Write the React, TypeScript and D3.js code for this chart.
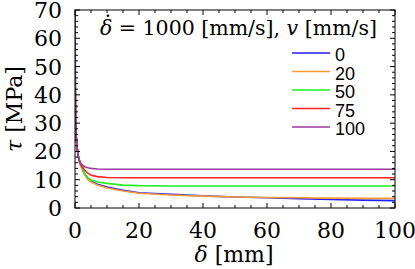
import React, { useEffect, useRef } from 'react';
import * as d3 from 'd3';

// shared abscissa (delta, mm)
const delta = [0.02, 0.1, 0.2, 0.4, 0.7, 1, 1.5, 2, 3, 4, 5, 7, 10, 15, 20, 30, 40, 50, 60, 70, 80, 90, 100];

const tau0 = [75, 42, 32, 25, 21, 18.5, 16, 14.5, 12, 10.4, 9.5, 8.4, 7.4, 6.3, 5.4, 4.8, 4.3, 3.9, 3.6, 3.3, 3.0, 2.8, 2.6];
const tau20 = [75, 42, 32, 25, 21, 18.5, 16, 14.3, 11.8, 10.1, 9.2, 8.1, 7.1, 6.0, 5.2, 4.6, 4.2, 3.9, 3.7, 3.6, 3.5, 3.4, 3.4];
const tau50 = [75, 42, 32, 25, 21, 18.5, 16, 14.5, 12.2, 10.6, 9.9, 9.2, 8.7, 8.1, 7.9, 7.8, 7.8, 7.8, 7.8, 7.8, 7.8, 7.8, 7.8];
const tau75 = [75, 42, 32, 25, 21, 18.5, 16, 15, 13.4, 12.3, 11.6, 11.1, 10.8, 10.7, 10.7, 10.7, 10.7, 10.7, 10.7, 10.7, 10.7, 10.7, 10.7];
const tau100 = [75, 42, 32, 25, 21, 18.5, 16.5, 15.5, 14.6, 14.2, 14.0, 13.8, 13.7, 13.7, 13.7, 13.7, 13.7, 13.7, 13.7, 13.7, 13.7, 13.7, 13.7];

const seriesNames = ['0', '20', '50', '75', '100'];
const seriesValues = [tau0, tau20, tau50, tau75, tau100];
const colors = ['#1f1fff', '#ff9a33', '#22ee22', '#ff2222', '#9a3a9e'];

const xTicks = [0, 20, 40, 60, 80, 100];
const yTicks = [0, 10, 20, 30, 40, 50, 60, 70];

const App: React.FC = () => {
  const svgRef = useRef(null);

  useEffect(() => {
    const width = 415;
    const height = 269;
    const marginTop = 10;
    const marginRight = 20;
    const marginBottom = 61;
    const marginLeft = 75;
    const serif = "'DejaVu Serif', 'Liberation Serif', serif";
    const sans = "'Liberation Sans', Arial, sans-serif";

    const svg = d3.select(svgRef.current)
      .attr('width', width)
      .attr('height', height)
      .attr('viewBox', [0, 0, width, height]);

    svg.selectAll('*').remove();

    const x = d3.scaleLinear().domain([0, 100]).range([marginLeft, width - marginRight]);
    const y = d3.scaleLinear().domain([0, 70]).range([height - marginBottom, marginTop]);

    svg.append('clipPath').attr('id', 'plotclip')
      .append('rect')
      .attr('x', marginLeft).attr('y', marginTop)
      .attr('width', width - marginLeft - marginRight)
      .attr('height', height - marginTop - marginBottom);

    // curves
    const line = d3.line<number>()
      .x((_, i) => x(delta[i]))
      .y(d => y(d));

    const g = svg.append('g').attr('clip-path', 'url(#plotclip)');
    seriesValues.forEach((vals, k) => {
      g.append('path')
        .datum(vals)
        .attr('d', line)
        .attr('fill', 'none')
        .attr('stroke', colors[k])
        .attr('stroke-width', 1.6);
    });

    // frame
    svg.append('rect')
      .attr('x', marginLeft).attr('y', marginTop)
      .attr('width', width - marginLeft - marginRight)
      .attr('height', height - marginTop - marginBottom)
      .attr('fill', 'none')
      .attr('stroke', 'black')
      .attr('stroke-width', 1);

    // inward ticks on all four sides
    const tickG = svg.append('g').attr('stroke', 'black').attr('stroke-width', 1);
    d3.range(0, 100.01, 5).forEach(v => {
      const len = v % 20 === 0 ? 5 : 3;
      tickG.append('line').attr('x1', x(v)).attr('x2', x(v))
        .attr('y1', y(0)).attr('y2', y(0) - len);
      tickG.append('line').attr('x1', x(v)).attr('x2', x(v))
        .attr('y1', y(70)).attr('y2', y(70) + len);
    });
    d3.range(0, 70.01, 2).forEach(v => {
      const len = v % 10 === 0 ? 5 : 3;
      tickG.append('line').attr('y1', y(v)).attr('y2', y(v))
        .attr('x1', x(0)).attr('x2', x(0) + len);
      tickG.append('line').attr('y1', y(v)).attr('y2', y(v))
        .attr('x1', x(100)).attr('x2', x(100) - len);
    });

    // tick labels
    svg.append('g').selectAll('text')
      .data(xTicks)
      .enter()
      .append('text')
      .attr('x', d => x(d))
      .attr('y', 238)
      .attr('text-anchor', 'middle')
      .style('font-family', serif)
      .style('font-size', '22px')
      .text(d => d);

    svg.append('g').selectAll('text')
      .data(yTicks)
      .enter()
      .append('text')
      .attr('x', 62)
      .attr('y', d => y(d) + 8)
      .attr('text-anchor', 'end')
      .style('font-family', serif)
      .style('font-size', '22px')
      .text(d => d);

    // axis titles
    const xt = svg.append('text')
      .attr('x', 234).attr('y', 262)
      .attr('text-anchor', 'middle')
      .style('font-family', serif)
      .style('font-size', '22px');
    xt.append('tspan').style('font-style', 'italic').text('δ');
    xt.append('tspan').text(' [mm]');

    const yt = svg.append('text')
      .attr('transform', 'translate(22,109) rotate(-90)')
      .attr('text-anchor', 'middle')
      .style('font-family', serif)
      .style('font-size', '22px');
    yt.append('tspan').style('font-style', 'italic').text('τ');
    yt.append('tspan').text(' [MPa]');

    // legend title
    const tt = svg.append('text')
      .attr('x', 100).attr('y', 35)
      .style('font-family', serif)
      .style('font-size', '20.5px');
    tt.append('tspan').style('font-style', 'italic').text('δ');
    tt.append('tspan').text(' = 1000 [mm/s], ');
    tt.append('tspan').style('font-style', 'italic').text('v');
    tt.append('tspan').text(' [mm/s]');
    svg.append('text')
      .attr('x', 108).attr('y', 23)
      .attr('text-anchor', 'middle')
      .style('font-family', serif)
      .style('font-size', '20px')
      .text('·');

    // legend entries
    const leg = svg.append('g');
    seriesNames.forEach((name, k) => {
      const ly = 53 + k * 18.5;
      leg.append('line')
        .attr('x1', 292).attr('x2', 330)
        .attr('y1', ly).attr('y2', ly)
        .attr('stroke', colors[k])
        .attr('stroke-width', 1.6);
      leg.append('text')
        .attr('x', 335).attr('y', ly + 8)
        .style('font-family', sans)
        .style('font-size', '18px')
        .text(name);
    });
  }, []);

  return (
    <svg ref={svgRef} style={{ position: 'absolute', left: 0, top: 0, background: 'white' }}></svg>
  );
};

export default App;
